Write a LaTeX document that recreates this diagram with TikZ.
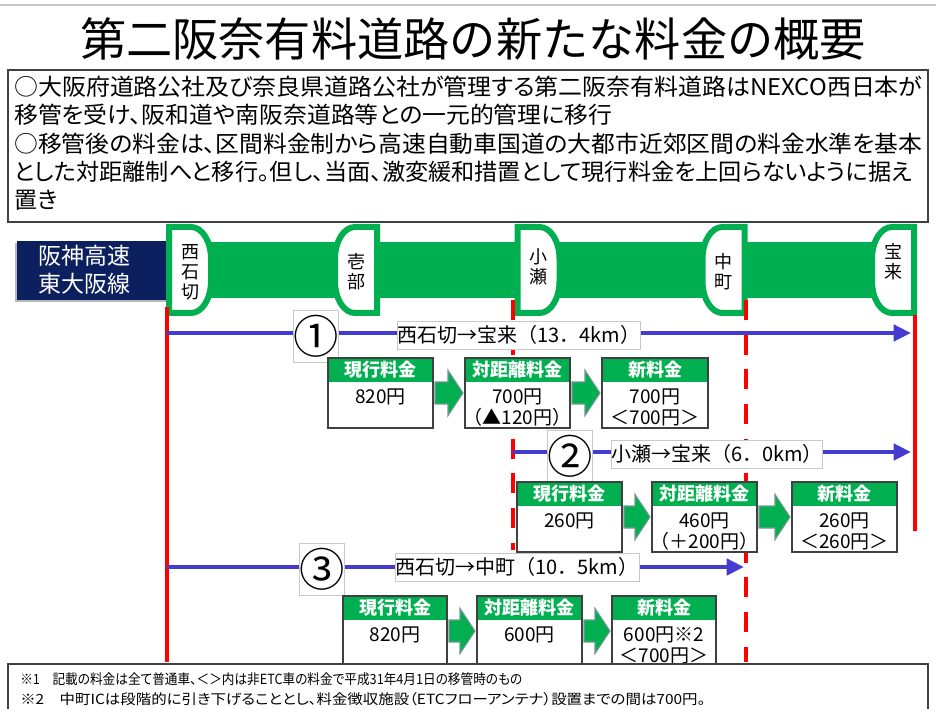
\documentclass[tikz,border=0pt]{standalone}
\usepackage{fontspec}
\usepackage{graphicx}
\setmainfont{Noto Sans CJK JP}
\newfontfamily\jpp[RawFeature=+palt]{Noto Sans CJK JP}
\usetikzlibrary{arrows.meta,calc}
\definecolor{rgreen}{RGB}{0,176,80}
\definecolor{navy}{RGB}{12,32,96}
\definecolor{rred}{RGB}{255,0,0}
\definecolor{rblue}{RGB}{68,60,208}
\definecolor{frame}{RGB}{64,64,64}
\definecolor{lgray}{RGB}{200,200,200}
\definecolor{arrowedge}{RGB}{120,150,150}
\tikzset{
 feeframe/.style={draw=frame, line width=1.2pt, fill=white, minimum height=52.5pt, inner sep=0pt, outer sep=0pt},
 hdrtext/.style={text=white, font=\fontsize{13.5}{15}\selectfont\bfseries, inner sep=0pt},
 bodytext/.style={font=\fontsize{14.25}{15.75}\selectfont, align=center, inner sep=0pt},
 lblbox/.style={draw=lgray, line width=0.6pt, fill=white, inner sep=0pt, minimum height=21pt, font=\fontsize{15}{16}\selectfont},
 numbox/.style={draw=lgray, line width=0.6pt, fill=white, inner sep=0pt, minimum width=30.75pt, minimum height=39pt, font=\fontsize{34}{34}\selectfont},
 route/.style={draw=rblue, line width=3.4pt, -{Triangle[length=13pt,width=12pt]}},
 stline/.style={draw=rred, line width=3pt},
 dashline/.style={draw=rred, line width=3pt, dash pattern=on 15pt off 11pt},
 blockarr/.style={fill=rgreen, draw=arrowedge, line width=0.8pt},
 pill/.style={draw=rgreen, line width=4.5pt, fill=white},
 stntext/.style={font=\fontsize{13.5}{15}\selectfont, align=center, inner sep=0pt},
 textline/.style={anchor=west, inner sep=0pt, font=\jpp\fontsize{17.25}{20}\selectfont},
 fnline/.style={anchor=west, inner sep=0pt, font=\jpp\fontsize{10.5}{12}\selectfont},
}
\newcommand\fitline[2]{\resizebox{#1}{\height}{#2}}
\newcommand\feebox[6]{%
  \node[feeframe, minimum width=#4*0.75pt, anchor=north west] (#1) at (#2,#3) {};
  \fill[rgreen] (#1.north west) rectangle ([yshift=-18pt]#1.north east);
  \draw[draw=frame, line width=1.2pt] (#1.north west) rectangle (#1.south east);
  \node[hdrtext] (#1h) at ([yshift=-9pt]#1.north) {#5};
  \node[bodytext, anchor=north] (#1b) at ([yshift=-23pt]#1.north) {#6};
}
\newcommand\blockarrow[2]{%
  \filldraw[blockarr] let \p1=(#1.east), \p2=(#2.west) in
   (\x1+1.5pt,\y1+8.25pt) -- (\x2-12.75pt,\y1+8.25pt) -- (\x2-12.75pt,\y1+17pt)
   -- (\x2-1.5pt,\y1) -- (\x2-12.75pt,\y1-17pt) -- (\x2-12.75pt,\y1-8.25pt)
   -- (\x1+1.5pt,\y1-8.25pt) -- cycle;
}
\newcommand\pillR[4]{%
  \draw[pill] (#1+3,227) -- (#1+25,227) .. controls (#1+36,227) and (#1+45,241) .. (#1+45,259)
    -- (#1+45,281) .. controls (#1+45,299) and (#1+36,313) .. (#1+25,313) -- (#1+3,313) -- cycle;
  \node[stntext] (#2) at (#1+24,#4) {#3};
}
\newcommand\pillL[4]{%
  \draw[pill] (#1-3,227) -- (#1-25,227) .. controls (#1-36,227) and (#1-45,241) .. (#1-45,259)
    -- (#1-45,281) .. controls (#1-45,299) and (#1-36,313) .. (#1-25,313) -- (#1-3,313) -- cycle;
  \node[stntext] (#2) at (#1-24,#4) {#3};
}
\begin{document}
\begin{tikzpicture}[x=0.75pt,y=-0.75pt]
\useasboundingbox (0,0) rectangle (936,709);
\fill[white] (0,0) rectangle (936,709);
\draw[gray!45, line width=1.5pt] (0,5) -- (936,5);
% title
\node (title) at (473,39) {\resizebox{589.5pt}{\height}{\fontsize{34.5}{40}\selectfont 第二阪奈有料道路の新たな料金の概要}};
% intro box
\node[draw=frame, line width=1.1pt, minimum width=690pt, minimum height=114pt, anchor=north west, inner sep=0pt, outer sep=0pt] (intro) at (8,70) {};
\node[textline] (p1) at (14,87) {\fitline{681pt}{○大阪府道路公社及び奈良県道路公社が管理する第二阪奈有料道路はNEXCO西日本が}};
\node[textline] (p2) at (14,115) {\fitline{448.5pt}{移管を受け、阪和道や南阪奈道路等との一元的管理に移行}};
\node[textline] (p3) at (14,144) {\fitline{681pt}{○移管後の料金は、区間料金制から高速自動車国道の大都市近郊区間の料金水準を基本}};
\node[textline] (p4) at (14,172) {\fitline{673.5pt}{とした対距離制へと移行。但し、当面、激変緩和措置として現行料金を上回らないように据え}};
\node[textline] (p5) at (14,200) {置き};
% road band
\fill[gray!55] (15,243) rectangle (169,302);
\node[fill=navy, minimum width=112.5pt, minimum height=44.25pt, anchor=north west, inner sep=0pt, outer sep=0pt] (hs) at (17,241) {};
\node[text=white, align=center, inner sep=0pt, font=\fontsize{17.25}{21}\selectfont] (hsT) at (84,270) {阪神高速\\東大阪線};
\fill[rgreen] (166,242) rectangle (917,298);
\pillR{166}{stW}{西\\石\\切}{272}
\pillL{380}{stI}{壱\\部}{272}
\pillR{514.5}{stK}{小\\瀬}{267}
\pillL{747.5}{stN}{中\\町}{272}
\pillL{917}{stH}{宝\\来}{262}
% red station lines
\draw[stline] (167,307) -- (167,662);
\draw[dashline] (512.5,300) -- (512.5,550);
\draw[dashline] (746,300) -- (746,662);
\draw[stline] (914.5,315) -- (914.5,531);
% route 1
\coordinate (r1s) at (167,333);
\coordinate (r1e) at (911,333);
\draw[route] (r1s) -- (r1e);
\node[numbox] (n1) at (316,336) {①};
\node[lblbox, minimum width=178.5pt] (l1) at (519,335) {西石切→宝来（13．4km）};
\feebox{a1}{328}{358}{105}{現行料金}{820円}
\feebox{b1}{465}{358}{105}{対距離料金}{700円\\（▲120円）}
\feebox{c1}{602}{358}{106}{新料金}{700円\\＜700円＞}
\blockarrow{a1}{b1}
\blockarrow{b1}{c1}
% route 2
\coordinate (r2s) at (512.5,452);
\coordinate (r2e) at (911,452);
\draw[route] (r2s) -- (r2e);
\node[numbox] (n2) at (570,456) {②};
\node[lblbox, minimum width=158.25pt] (l2) at (717,454) {小瀬→宝来（6．0km）};
\feebox{a2}{517}{482}{105}{現行料金}{260円}
\feebox{b2}{652}{482}{105}{対距離料金}{460円\\（＋200円）}
\feebox{c2}{792}{482}{105}{新料金}{260円\\＜260円＞}
\blockarrow{a2}{b2}
\blockarrow{b2}{c2}
% route 3
\coordinate (r3s) at (167,567);
\coordinate (r3e) at (744,567);
\draw[route] (r3s) -- (r3e);
\node[numbox] (n3) at (322,569) {③};
\node[lblbox, minimum width=183pt] (l3) at (517,567) {西石切→中町（10．5km）};
\feebox{a3}{343}{596}{104}{現行料金}{820円}
\feebox{b3}{477}{596}{105}{対距離料金}{600円}
\feebox{c3}{612}{596}{104}{新料金}{600円※2\\＜700円＞}
\blockarrow{a3}{b3}
\blockarrow{b3}{c3}
% footnotes
\draw[draw=frame, fill=white, line width=1.1pt] (8,664) rectangle (928,720);
\node[fnline] (f1) at (20,679) {\fitline{376.5pt}{※1　記載の料金は全て普通車、＜＞内は非ETC車の料金で平成31年4月1日の移管時のもの}};
\node[fnline] (f2) at (20,699) {\fitline{513.75pt}{※2　中町ICは段階的に引き下げることとし、料金徴収施設（ETCフローアンテナ）設置までの間は700円。}};
\end{tikzpicture}
\end{document}
